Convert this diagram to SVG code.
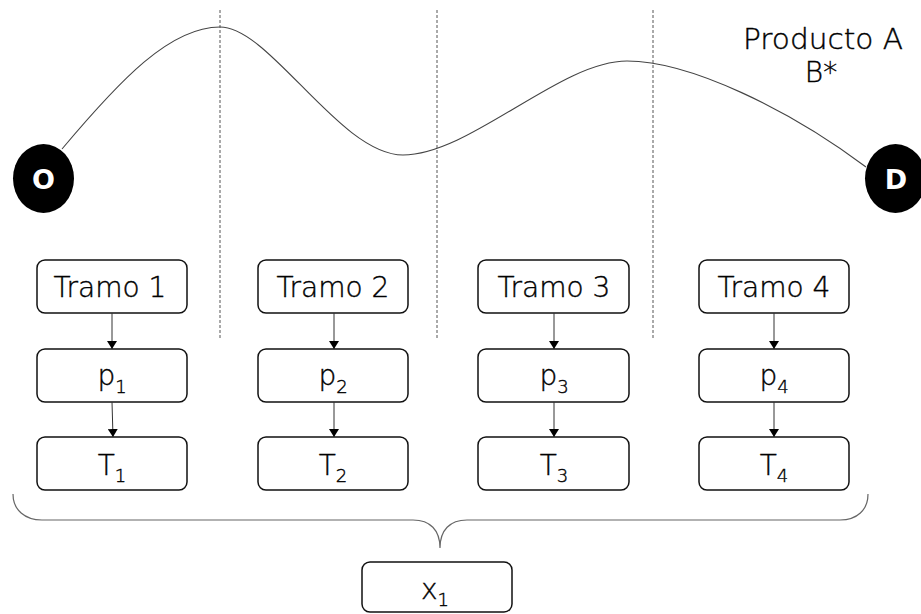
<svg xmlns="http://www.w3.org/2000/svg" width="921" height="614" viewBox="0 0 921 614">
  <style>
    .box { fill: #ffffff; stroke: #111111; stroke-width: 1.5; }
    .lbl { font-family: "DejaVu Sans", "Liberation Sans", sans-serif; font-weight: 300; font-size: 28px; fill: #000000; stroke: #000000; stroke-width: 0.4; text-anchor: middle; }
    .sub { font-size: 18px; }
    .end { fill: #000000; }
    .endlbl { font-family: "DejaVu Sans", "Liberation Sans", sans-serif; font-size: 27px; font-weight: bold; fill: #ffffff; text-anchor: middle; }
    .divider { stroke: #555555; stroke-width: 1; stroke-dasharray: 3 2; fill: none; }
    .route { stroke: #444444; stroke-width: 1.1; fill: none; }
    .link { stroke: #333333; stroke-width: 1; fill: none; marker-end: url(#tip); }
    .brace { stroke: #666666; stroke-width: 1.2; fill: none; }
  </style>
  <defs>
    <marker id="tip" viewBox="0 0 8 10" refX="8" refY="5" markerWidth="8" markerHeight="10" markerUnits="userSpaceOnUse" orient="auto">
      <path d="M0,0 L8,5 L0,10 Z" fill="#000000"/>
    </marker>
  </defs>

  <rect width="921" height="614" fill="#ffffff"/>

  <!-- section dividers -->
  <g id="dividers">
    <line class="divider" x1="220" y1="10" x2="220" y2="338"/>
    <line class="divider" x1="437" y1="10" x2="437" y2="338"/>
    <line class="divider" x1="653" y1="10" x2="653" y2="338"/>
  </g>

  <!-- route from origin to destination -->
  <path class="route" d="M62,149 C120,80 170,27 220,27 C270,27 340,155 403,155 C470,155 560,61 627,61 C690,61 790,110 866,167"/>

  <g id="label-producto">
    <text class="lbl" x="823" y="49" font-size="30" textLength="160" lengthAdjust="spacingAndGlyphs">Producto A</text>
    <text class="lbl" x="821" y="82" font-size="29">B*</text>
  </g>

  <g id="node-O">
    <ellipse class="end" cx="43.5" cy="178.5" rx="30.5" ry="34.5"/>
    <text class="endlbl" x="43.5" y="189">O</text>
  </g>
  <g id="node-D">
    <ellipse class="end" cx="895.5" cy="178.5" rx="30.5" ry="34.5"/>
    <text class="endlbl" x="896" y="189">D</text>
  </g>

  <!-- column 1 -->
  <g id="tramo1"><rect class="box" x="37" y="260" width="150" height="53" rx="8"/><text class="lbl" x="110" y="297">Tramo 1</text></g>
  <g id="p1"><rect class="box" x="37" y="349" width="150" height="53" rx="8"/><text class="lbl" x="112" y="385">p<tspan class="sub" dy="8">1</tspan></text></g>
  <g id="T1"><rect class="box" x="37" y="437" width="150" height="53" rx="8"/><text class="lbl" x="112" y="475">T<tspan class="sub" dy="7">1</tspan></text></g>

  <!-- column 2 -->
  <g id="tramo2"><rect class="box" x="258" y="260" width="150" height="53" rx="8"/><text class="lbl" x="333" y="297">Tramo 2</text></g>
  <g id="p2"><rect class="box" x="258" y="349" width="150" height="53" rx="8"/><text class="lbl" x="333" y="385">p<tspan class="sub" dy="8">2</tspan></text></g>
  <g id="T2"><rect class="box" x="258" y="437" width="150" height="53" rx="8"/><text class="lbl" x="333" y="475">T<tspan class="sub" dy="7">2</tspan></text></g>

  <!-- column 3 -->
  <g id="tramo3"><rect class="box" x="478" y="260" width="151" height="53" rx="8"/><text class="lbl" x="554" y="297">Tramo 3</text></g>
  <g id="p3"><rect class="box" x="478" y="349" width="151" height="53" rx="8"/><text class="lbl" x="554" y="385">p<tspan class="sub" dy="8">3</tspan></text></g>
  <g id="T3"><rect class="box" x="478" y="437" width="151" height="53" rx="8"/><text class="lbl" x="554" y="475">T<tspan class="sub" dy="7">3</tspan></text></g>

  <!-- column 4 -->
  <g id="tramo4"><rect class="box" x="699" y="260" width="150" height="53" rx="8"/><text class="lbl" x="774" y="297">Tramo 4</text></g>
  <g id="p4"><rect class="box" x="699" y="349" width="150" height="53" rx="8"/><text class="lbl" x="774" y="385">p<tspan class="sub" dy="8">4</tspan></text></g>
  <g id="T4"><rect class="box" x="699" y="437" width="150" height="53" rx="8"/><text class="lbl" x="774" y="475">T<tspan class="sub" dy="7">4</tspan></text></g>

  <!-- total -->
  <g id="x1"><rect class="box" x="362" y="562" width="150" height="50" rx="8"/><text class="lbl" x="435" y="599">x<tspan class="sub" dy="7">1</tspan></text></g>

  <g id="connectors">
    <line class="link" x1="112" y1="313" x2="112" y2="349"/>
    <line class="link" x1="112" y1="402" x2="113" y2="437"/>
    <line class="link" x1="334" y1="313" x2="334" y2="349"/>
    <line class="link" x1="334" y1="402" x2="334" y2="437"/>
    <line class="link" x1="554" y1="313" x2="554" y2="349"/>
    <line class="link" x1="554" y1="402" x2="554" y2="437"/>
    <line class="link" x1="774" y1="313" x2="774" y2="349"/>
    <line class="link" x1="774" y1="402" x2="774" y2="437"/>
    <path class="brace" d="M13,494 C13,510 25,520 42,520 L413,520 C430,520 440,530 440,548 C440,530 450,520 467,520 L840,520 C857,520 868,510 868,494"/>
  </g>
</svg>
